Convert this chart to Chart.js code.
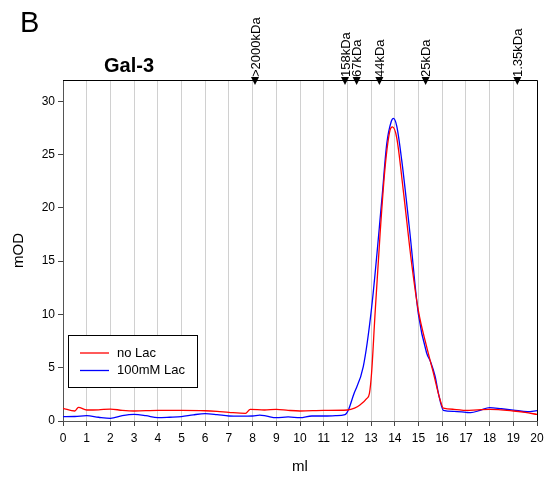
<!DOCTYPE html>
<html>
<head>
<meta charset="utf-8">
<script src="https://cdn.jsdelivr.net/npm/chart.js@4"></script>
<style>
    body { margin: 0; background: #fff; }
    canvas { display: block; }
</style>
</head>
<body>
<canvas id="canvas" width="549" height="483"></canvas>
<script>
// データ (ml, mOD)
const noLacX = [0, 0.5, 0.65, 1, 1.5, 2, 2.5, 3, 4, 5, 6, 6.5, 7, 7.7, 7.9, 8.5, 9, 9.5, 10, 11, 12, 12.3, 12.53, 12.81, 12.93, 13.02, 13.16, 13.38, 13.59, 13.8, 13.9, 14.08, 14.36, 14.71, 14.99, 15.34, 15.63, 15.91, 16.05, 16.5, 17, 17.5, 18, 19, 19.5, 20];
const noLacY = [1.19, 0.94, 1.28, 1.03, 1.05, 1.12, 1.0, 0.94, 0.99, 0.99, 0.96, 0.9, 0.81, 0.72, 1.1, 1.03, 1.1, 1.0, 0.94, 0.99, 1.03, 1.2, 1.5, 2.1, 2.6, 4.5, 9.8, 17.6, 23.8, 27.3, 27.6, 26.6, 21.6, 14.8, 10.4, 7.0, 4.5, 2.0, 1.2, 1.1, 0.99, 1.05, 1.1, 0.94, 0.8, 0.62];

const lacX = [0, 0.5, 1, 1.5, 2, 2.5, 3, 3.5, 4, 4.5, 5, 5.5, 6, 6.5, 7, 7.5, 8, 8.3, 8.6, 9, 9.5, 10, 10.5, 11, 11.5, 11.9, 12.04, 12.25, 12.67, 13.02, 13.45, 13.66, 13.85, 13.94, 14.08, 14.29, 14.64, 14.99, 15.34, 15.5, 15.7, 15.84, 16.05, 16.5, 17, 17.2, 17.6, 18, 18.5, 19, 19.6, 20];
const lacY = [0.41, 0.42, 0.5, 0.35, 0.25, 0.5, 0.62, 0.5, 0.31, 0.35, 0.41, 0.58, 0.69, 0.6, 0.47, 0.45, 0.47, 0.56, 0.45, 0.31, 0.38, 0.31, 0.47, 0.47, 0.5, 0.6, 1.03, 2.4, 5.1, 10.6, 20.7, 26.0, 28.1, 28.4, 27.7, 24.5, 17.6, 10.1, 6.4, 5.6, 4.2, 2.6, 1.0, 0.9, 0.81, 0.78, 1.0, 1.25, 1.15, 1.03, 0.87, 0.97];

// 分子量マーカー
const markerPos = [8.1, 11.9, 12.39, 13.35, 15.3, 19.17];
const markerLabels = [">2000kDa", "158kDa", "67kDa", "44kDa", "25kDa", "1.35kDa"];

const yTicks = [0, 5, 10, 15, 20, 25, 30];

function toPoints(xs, ys) {
    return xs.map((x, i) => ({x: x, y: ys[i]}));
}

const font = "'Liberation Sans', Arial, sans-serif";

// 枠・マーカー・凡例・タイトルを描くプラグイン
const extras = {
    id: 'extras',
    afterDraw(chart) {
        const ctx = chart.ctx;
        const area = chart.chartArea;
        const xs = chart.scales.x;
        ctx.save();

        // 上と右の枠
        ctx.strokeStyle = '#000';
        ctx.lineWidth = 1;
        ctx.beginPath();
        ctx.moveTo(area.left, area.top + 0.5);
        ctx.lineTo(area.right + 0.5, area.top + 0.5);
        ctx.lineTo(area.right + 0.5, area.bottom);
        ctx.stroke();

        // マーカー (三角とラベル)
        ctx.fillStyle = '#000';
        for (let i = 0; i < markerPos.length; i++) {
            let px = xs.getPixelForValue(markerPos[i]);
            ctx.beginPath();
            ctx.moveTo(px - 4, area.top - 3);
            ctx.lineTo(px + 4, area.top - 3);
            ctx.lineTo(px, area.top + 5);
            ctx.closePath();
            ctx.fill();

            ctx.save();
            ctx.translate(px + 1, area.top - 3);
            ctx.rotate(-Math.PI / 2);
            ctx.font = '13px ' + font;
            ctx.textAlign = 'left';
            ctx.textBaseline = 'middle';
            ctx.fillText(markerLabels[i], 0, 0);
            ctx.restore();
        }

        // パネル文字とタイトル
        ctx.font = '29px ' + font;
        ctx.textAlign = 'left';
        ctx.textBaseline = 'alphabetic';
        ctx.fillText('B', 20, 32);
        ctx.font = 'bold 20px ' + font;
        ctx.textAlign = 'center';
        ctx.fillText('Gal-3', 129, 72);

        // 凡例
        ctx.fillStyle = '#fff';
        ctx.fillRect(68.5, 335.5, 129, 52);
        ctx.strokeStyle = '#000';
        ctx.strokeRect(68.5, 335.5, 129, 52);
        ctx.font = '13px ' + font;
        ctx.textAlign = 'left';
        ctx.textBaseline = 'middle';
        chart.data.datasets.forEach((ds, i) => {
            let y = 353 + i * 17.5;
            ctx.strokeStyle = ds.borderColor;
            ctx.lineWidth = 1.3;
            ctx.beginPath();
            ctx.moveTo(80, y);
            ctx.lineTo(109, y);
            ctx.stroke();
            ctx.fillStyle = '#000';
            ctx.fillText(ds.label, 117, y);
        });

        ctx.restore();
    }
};

const ctx = document.getElementById('canvas').getContext('2d');
const chartInstance = new Chart(ctx, {
    type: 'line',
    data: {
        datasets: [
            {
                label: 'no Lac',
                data: toPoints(noLacX, noLacY),
                borderColor: '#ff0000',
                borderWidth: 1.3,
                pointRadius: 0,
                cubicInterpolationMode: 'monotone',
                fill: false,
            },
            {
                label: '100mM Lac',
                data: toPoints(lacX, lacY),
                borderColor: '#0000ff',
                borderWidth: 1.3,
                pointRadius: 0,
                cubicInterpolationMode: 'monotone',
                fill: false,
            }
        ]
    },
    options: {
        responsive: false,
        animation: false,
        layout: {padding: {top: 80, right: 12, left: 0, bottom: 0}},
        plugins: {
            legend: {display: false},
            tooltip: {enabled: false}
        },
        scales: {
            x: {
                type: 'linear',
                min: 0,
                max: 20,
                ticks: {stepSize: 1, color: '#000', padding: 5, font: {family: font, size: 12}},
                grid: {color: '#d0d0d0', tickColor: '#444', tickLength: 5, lineWidth: 1},
                border: {color: '#555'},
                title: {display: true, text: 'ml', color: '#000', font: {family: font, size: 15}, padding: {top: 0, bottom: 7}},
                afterFit: (s) => { s.height = 62; }
            },
            y: {
                type: 'linear',
                min: 0,
                max: 32,
                afterBuildTicks: (s) => { s.ticks = yTicks.map(v => ({value: v})); },
                ticks: {color: '#000', padding: 3, font: {family: font, size: 12}},
                grid: {drawOnChartArea: false, tickColor: '#444', tickLength: 5},
                border: {color: '#555'},
                title: {display: true, text: 'mOD', color: '#000', font: {family: font, size: 15}, padding: {top: 10, bottom: 0}},
                afterFit: (s) => { s.width = 63; }
            }
        }
    },
    plugins: [extras]
});
</script>
</body>
</html>
